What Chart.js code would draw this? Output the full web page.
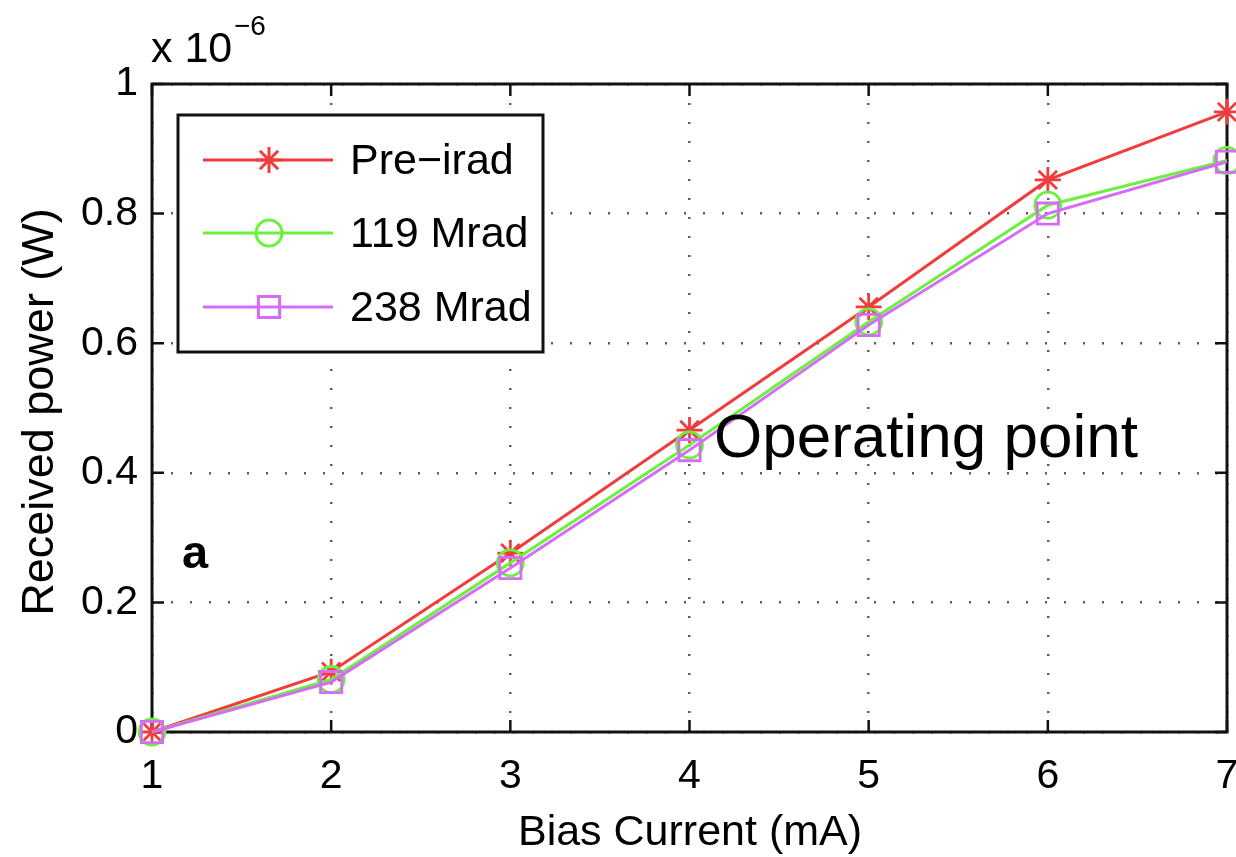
<!DOCTYPE html>
<html>
<head>
<meta charset="utf-8">
<script src="https://cdn.jsdelivr.net/npm/chart.js@4.4.1/dist/chart.umd.min.js"></script>
<style>
  html, body { margin: 0; padding: 0; background: #fff; overflow: hidden; }
  canvas { display: block; }
</style>
</head>
<body>
<canvas id="c" width="1236" height="857"></canvas>
<script>
// Bias current (mA) on x, received power in units of 1e-6 W on y
const biasCurrent = [1, 2, 3, 4, 5, 6, 7];
const preIrad  = [0, 0.093, 0.276, 0.466, 0.656, 0.852, 0.957];
const mrad119  = [0, 0.081, 0.261, 0.443, 0.633, 0.813, 0.882];
const mrad238  = [0, 0.077, 0.253, 0.435, 0.628, 0.800, 0.880];
const seriesNames = ['Pre\u2212irad', '119 Mrad', '238 Mrad'];
const xTicks = [1, 2, 3, 4, 5, 6, 7];
const yTicks = [0, 0.2, 0.4, 0.6, 0.8, 1];

const FONT = '"Liberation Sans", Arial, Helvetica, sans-serif';
const RED = '#f03c3c', GREEN = '#6cf040', MAGENTA = '#d56cf5';

const toPoints = ys => biasCurrent.map((x, i) => ({ x, y: ys[i] }));

function series(label, ys, color, style, radius, order) {
  return {
    label, data: toPoints(ys), borderColor: color, borderWidth: 3,
    pointStyle: style, pointRadius: radius, pointBorderColor: color,
    pointBackgroundColor: 'rgba(0,0,0,0)', pointBorderWidth: 2.8,
    fill: false, tension: 0, clip: false, order
  };
}

// Axes box, inward ticks on all four sides, legend and annotations
const decorations = {
  id: 'decorations',
  beforeDatasetsDraw(chart) {
    const { ctx, chartArea: a, scales } = chart;
    ctx.save();
    ctx.strokeStyle = '#111';
    ctx.lineWidth = 3;
    ctx.strokeRect(a.left, a.top, a.right - a.left, a.bottom - a.top);
    ctx.lineWidth = 2.5;
    const L = 12;
    ctx.beginPath();
    xTicks.forEach(v => {
      const px = scales.x.getPixelForValue(v);
      ctx.moveTo(px, a.bottom); ctx.lineTo(px, a.bottom - L);
      ctx.moveTo(px, a.top); ctx.lineTo(px, a.top + L);
    });
    yTicks.forEach(v => {
      const py = scales.y.getPixelForValue(v);
      ctx.moveTo(a.left, py); ctx.lineTo(a.left + L, py);
      ctx.moveTo(a.right, py); ctx.lineTo(a.right - L, py);
    });
    ctx.stroke();
    ctx.restore();
  },
  afterDraw(chart) {
    const { ctx } = chart;
    ctx.save();
    // axis titles
    ctx.fillStyle = '#000';
    ctx.font = '43px ' + FONT;
    ctx.textAlign = 'center';
    ctx.textBaseline = 'alphabetic';
    ctx.fillText('Bias Current (mA)', 690, 845);
    ctx.save();
    ctx.font = '45px ' + FONT;
    ctx.translate(53, 412);
    ctx.rotate(-Math.PI / 2);
    ctx.fillText('Received power (W)', 0, 0);
    ctx.restore();

    // exponent label
    ctx.textAlign = 'left';
    ctx.font = '43px ' + FONT;
    ctx.fillText('x 10', 151, 62);
    ctx.font = '28px ' + FONT;
    ctx.fillText('\u22126', 234, 35);

    // annotations
    ctx.font = '62px ' + FONT;
    ctx.fillText('Operating point', 714, 457);
    ctx.font = 'bold 47px ' + FONT;
    ctx.fillText('a', 182, 568);

    // legend
    const box = { x: 178, y: 115, w: 365, h: 237 };
    ctx.fillStyle = '#fff';
    ctx.fillRect(box.x, box.y, box.w, box.h);
    ctx.strokeStyle = '#111';
    ctx.lineWidth = 3;
    ctx.strokeRect(box.x, box.y, box.w, box.h);
    const rows = [160, 233, 307];
    chart.data.datasets.forEach((ds, i) => {
      const y = rows[i];
      ctx.strokeStyle = ds.borderColor;
      ctx.lineWidth = ds.borderWidth;
      ctx.beginPath();
      ctx.moveTo(203, y); ctx.lineTo(333, y);
      ctx.stroke();
      ctx.fillStyle = 'rgba(0,0,0,0)';
      Chart.helpers.drawPoint(ctx, {
        pointStyle: ds.pointStyle, radius: ds.pointRadius,
        rotation: 0, borderWidth: ds.pointBorderWidth
      }, 269, y);
      ctx.fillStyle = '#000';
      ctx.font = '43px ' + FONT;
      ctx.textBaseline = 'middle';
      ctx.fillText(ds.label, 350, y + 2);
    });
    ctx.restore();
  }
};

new Chart(document.getElementById('c'), {
  type: 'line',
  data: {
    datasets: [
      series(seriesNames[0], preIrad, RED, 'star', 13, 3),
      series(seriesNames[1], mrad119, GREEN, 'circle', 13, 2),
      series(seriesNames[2], mrad238, MAGENTA, 'rect', 15, 1)
    ]
  },
  options: {
    responsive: false,
    animation: false,
    devicePixelRatio: 1,
    layout: { autoPadding: false, padding: { top: 84, right: 9, left: 0, bottom: 0 } },
    plugins: { legend: { display: false }, tooltip: { enabled: false } },
    scales: {
      x: {
        type: 'linear', min: 1, max: 7,
        afterBuildTicks: s => { s.ticks = xTicks.map(v => ({ value: v })); },
        ticks: { color: '#000', font: { size: 41, family: FONT }, padding: 20, maxRotation: 0 },
        grid: { color: 'rgba(40,40,40,0.75)', lineWidth: 2.5, drawTicks: false },
        border: { display: false, dash: [2, 17] },
        afterFit: s => { s.height = 125; s.paddingLeft = 0; s.paddingRight = 0; }
      },
      y: {
        type: 'linear', min: 0, max: 1,
        afterBuildTicks: s => { s.ticks = yTicks.map(v => ({ value: v })); },
        ticks: {
          color: '#000', font: { size: 41, family: FONT }, padding: 14,
          callback: v => (v === 0 || v === 1) ? String(v) : v.toFixed(1)
        },
        grid: { color: 'rgba(40,40,40,0.75)', lineWidth: 2.5, drawTicks: false },
        border: { display: false, dash: [2, 17] },
        afterFit: s => { s.width = 152; s.paddingTop = 0; s.paddingBottom = 0; }
      }
    }
  },
  plugins: [decorations]
});
</script>
</body>
</html>
